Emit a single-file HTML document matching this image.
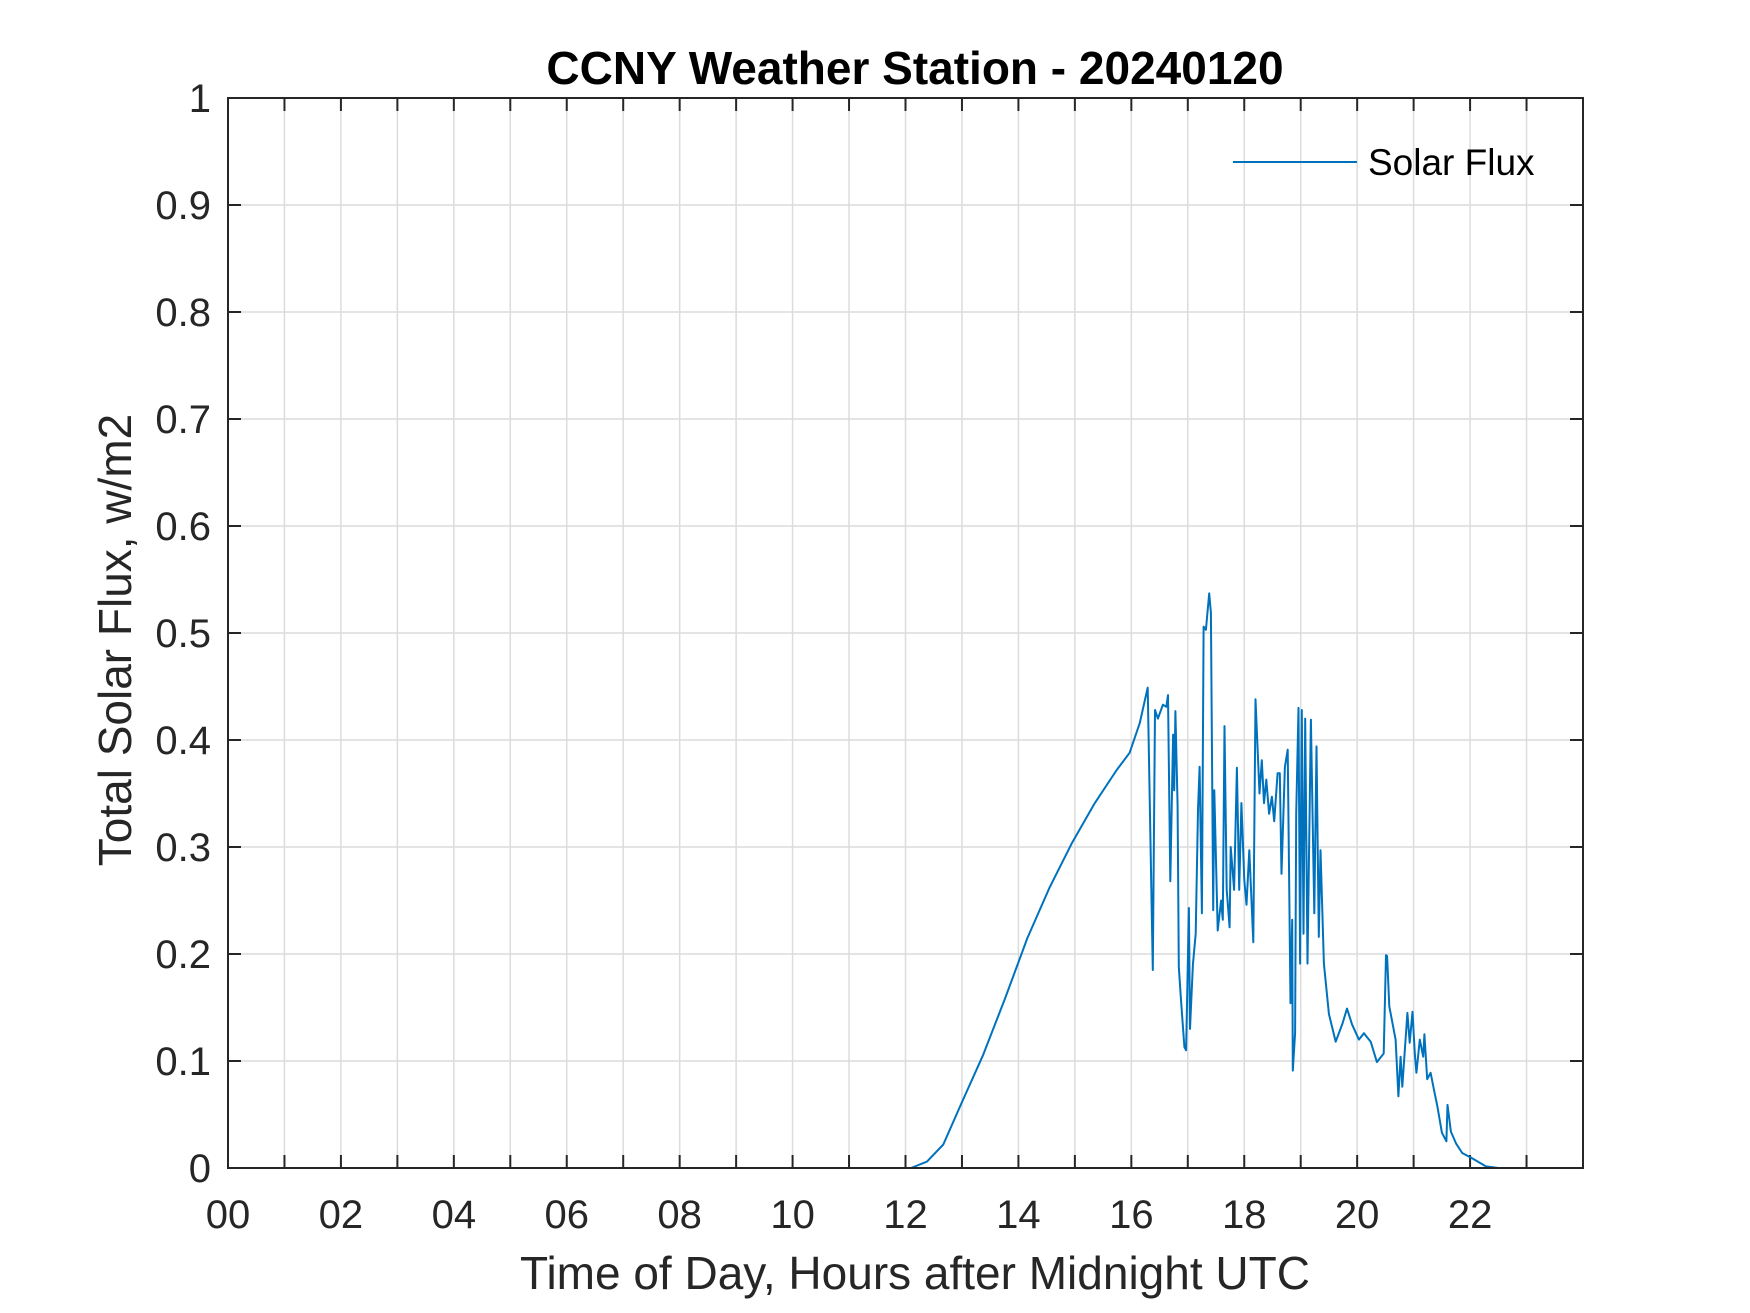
<!DOCTYPE html>
<html><head><meta charset="utf-8"><style>
body{margin:0;background:#fff}
svg{display:block}
text{font-family:"Liberation Sans",sans-serif;fill:#262626}
</style></head><body>
<svg id="chart" width="1750" height="1313" viewBox="0 0 1750 1313">
<text x="915" y="84" text-anchor="middle" font-size="46" font-weight="bold" fill="#000" style="fill:#000">CCNY Weather Station - 20240120</text>
<g id="grid"></g>
<g id="ticks"></g>
<path id="series" fill="none" stroke="#0072BD" stroke-width="2" stroke-linejoin="round"></path>
<rect x="228" y="98" width="1355" height="1070" fill="none" stroke="#262626" stroke-width="2"/>
<g>
<line x1="1233" y1="162" x2="1357" y2="162" stroke="#0072BD" stroke-width="2"/>
<text x="1368" y="175" font-size="37" style="fill:#000">Solar Flux</text>
</g>
<text x="915" y="1289" text-anchor="middle" font-size="46">Time of Day, Hours after Midnight UTC</text>
<text transform="translate(131,640) rotate(-90)" text-anchor="middle" font-size="46">Total Solar Flux, w/m2</text>
</svg>
<script>
const hours=[0,12.1,12.38,12.67,12.97,13.37,13.76,14.16,14.55,14.95,15.34,15.74,15.97,16.15,16.29,16.38,16.42,16.47,16.56,16.62,16.65,16.69,16.74,16.76,16.78,16.82,16.84,16.88,16.94,16.97,17.02,17.04,17.09,17.14,17.18,17.21,17.25,17.28,17.32,17.38,17.41,17.45,17.47,17.53,17.59,17.62,17.65,17.69,17.74,17.76,17.82,17.87,17.91,17.95,18.0,18.04,18.09,18.16,18.2,18.27,18.31,18.35,18.39,18.44,18.49,18.53,18.59,18.63,18.66,18.72,18.77,18.82,18.85,18.86,18.9,18.92,18.96,18.99,19.02,19.05,19.08,19.12,19.18,19.24,19.28,19.32,19.35,19.41,19.5,19.62,19.74,19.82,19.91,20.03,20.12,20.24,20.35,20.47,20.51,20.53,20.57,20.68,20.73,20.77,20.8,20.89,20.93,20.98,21.02,21.05,21.11,21.17,21.19,21.24,21.3,21.36,21.42,21.5,21.58,21.6,21.66,21.75,21.86,22.04,22.28,22.5,24];
const flux=[0,0,0.006,0.022,0.058,0.105,0.158,0.215,0.262,0.304,0.34,0.372,0.388,0.416,0.449,0.185,0.428,0.42,0.433,0.431,0.442,0.268,0.405,0.353,0.427,0.338,0.188,0.157,0.113,0.11,0.243,0.13,0.19,0.219,0.335,0.375,0.238,0.506,0.503,0.537,0.519,0.241,0.353,0.222,0.25,0.232,0.413,0.26,0.225,0.3,0.26,0.374,0.26,0.341,0.269,0.246,0.297,0.211,0.438,0.35,0.381,0.341,0.363,0.331,0.347,0.324,0.369,0.369,0.275,0.375,0.391,0.154,0.232,0.091,0.126,0.331,0.43,0.191,0.428,0.219,0.42,0.191,0.419,0.238,0.394,0.216,0.297,0.191,0.144,0.118,0.135,0.149,0.134,0.12,0.126,0.118,0.099,0.107,0.199,0.198,0.151,0.12,0.067,0.104,0.076,0.145,0.117,0.146,0.107,0.089,0.12,0.104,0.125,0.083,0.089,0.073,0.058,0.033,0.025,0.059,0.034,0.023,0.014,0.009,0.0015,0,0];
const yTicks=[0,0.1,0.2,0.3,0.4,0.5,0.6,0.7,0.8,0.9,1];
const yTickLabels=["0","0.1","0.2","0.3","0.4","0.5","0.6","0.7","0.8","0.9","1"];
const xTicks=[0,1,2,3,4,5,6,7,8,9,10,11,12,13,14,15,16,17,18,19,20,21,22,23];
const xTickLabels=["00","02","04","06","08","10","12","14","16","18","20","22"];

const L=228,R=1583,T=98,B=1168;
const xs=h=>L+(h/24)*(R-L);
const ys=v=>B-(v/1)*(B-T);
const NS="http://www.w3.org/2000/svg";
const grid=document.getElementById('grid'),ticks=document.getElementById('ticks');
function mk(tag,attrs,parent){const e=document.createElementNS(NS,tag);for(const k in attrs)e.setAttribute(k,attrs[k]);parent.appendChild(e);return e;}
xTicks.forEach(h=>{
  const x=xs(h);
  const g=mk('line',{x1:x,x2:x,y1:T,y2:B,stroke:'#dcdcdc','stroke-width':1.5},grid);
  
  
  const t1=mk('line',{x1:x,x2:x,y1:B,y2:B-13,stroke:'#262626','stroke-width':2},ticks);
  
  
  const t2=mk('line',{x1:x,x2:x,y1:T,y2:T+13,stroke:'#262626','stroke-width':2},ticks);
  
  
  if(h%2===0){
    const lb=mk('text',{x:x,y:1228,'text-anchor':'middle','font-size':40},ticks);
    lb.textContent=xTickLabels[h/2];
    
    
  }
});
yTicks.forEach((v,i)=>{
  const y=ys(v);
  const g=mk('line',{x1:L,x2:R,y1:y,y2:y,stroke:'#dcdcdc','stroke-width':1.5},grid);
  
  
  const t1=mk('line',{x1:L,x2:L+13,y1:y,y2:y,stroke:'#262626','stroke-width':2},ticks);
  
  
  const t2=mk('line',{x1:R,x2:R-13,y1:y,y2:y,stroke:'#262626','stroke-width':2},ticks);
  
  
  const lb=mk('text',{x:211,y:y+14,'text-anchor':'end','font-size':40},ticks);
  lb.textContent=yTickLabels[i];
  
  
});
let d='';
hours.forEach((h,i)=>{d+=(i?'L':'M')+xs(h).toFixed(1)+','+ys(flux[i]).toFixed(1);});
document.getElementById('series').setAttribute('d',d);
</script>
</body></html>
